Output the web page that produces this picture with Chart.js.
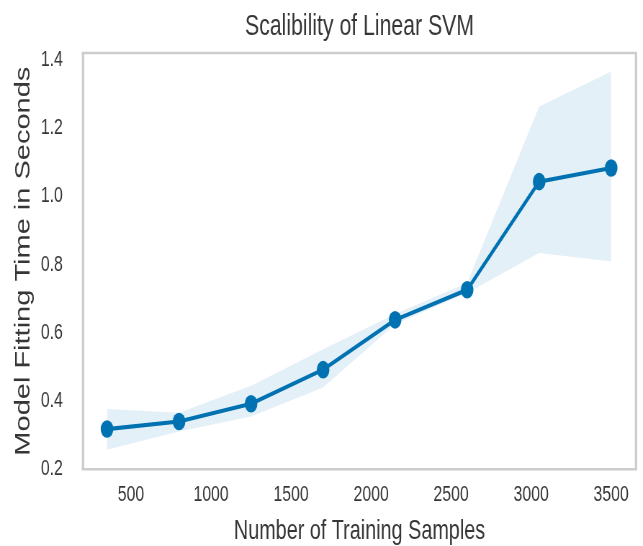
<!DOCTYPE html>
<html>
<head>
<meta charset="utf-8">
<script src="https://cdn.jsdelivr.net/npm/chart.js@4/dist/chart.umd.min.js"></script>
<style>
  html, body { margin: 0; padding: 0; background: #ffffff; overflow: hidden; }
  /* the figure is drawn wide and compressed horizontally, giving the narrow lettering and oval markers */
  #wrap { width: 893px; height: 546px; transform: scaleX(0.72); transform-origin: 0 0; }
</style>
</head>
<body>
<div id="wrap"><canvas id="chart" width="893" height="546"></canvas></div>
<script>
// Training set sizes and model fitting times (seconds)
const samples      = [350, 800, 1250, 1700, 2150, 2600, 3050, 3500];
const fitTime      = [0.318, 0.340, 0.392, 0.492, 0.638, 0.726, 1.043, 1.083];
const fitTimeUpper = [0.377, 0.366, 0.445, 0.552, 0.655, 0.746, 1.263, 1.366];
const fitTimeLower = [0.257, 0.311, 0.355, 0.440, 0.625, 0.717, 0.834, 0.809];

const xTicks = [500, 1000, 1500, 2000, 2500, 3000, 3500];
const yTicks = [0.2, 0.4, 0.6, 0.8, 1.0, 1.2, 1.4];

const LINE = '#0072B2';
const BAND = 'rgba(0, 114, 178, 0.11)';
const TEXT = '#363636';
const FONT = "'Liberation Sans', Arial, sans-serif";

const pts = (ys) => samples.map((x, i) => ({ x: x, y: ys[i] }));

// light grey box around the plotting area
const frame = {
  id: 'frame',
  beforeDatasetsDraw(chart) {
    const { ctx, chartArea: a } = chart;
    ctx.save();
    ctx.strokeStyle = '#cdcdcd';
    ctx.lineWidth = 2.6;
    ctx.beginPath();
    ctx.moveTo(a.left - 1.7, a.top); ctx.lineTo(a.right + 1.7, a.top);
    ctx.moveTo(a.left - 1.7, a.bottom); ctx.lineTo(a.right + 1.7, a.bottom);
    ctx.stroke();
    ctx.lineWidth = 3.4;
    ctx.beginPath();
    ctx.moveTo(a.left, a.top); ctx.lineTo(a.left, a.bottom);
    ctx.moveTo(a.right, a.top); ctx.lineTo(a.right, a.bottom);
    ctx.stroke();
    ctx.restore();
  }
};

new Chart(document.getElementById('chart'), {
  type: 'line',
  data: {
    datasets: [
      { data: pts(fitTimeUpper), borderWidth: 0, pointRadius: 0, backgroundColor: BAND, fill: '+1', order: 2 },
      { data: pts(fitTimeLower), borderWidth: 0, pointRadius: 0, backgroundColor: BAND, fill: false, order: 2 },
      { data: pts(fitTime), borderColor: LINE, backgroundColor: LINE, borderWidth: 4.2,
        pointRadius: 8.8, pointBorderWidth: 0, pointBackgroundColor: LINE, fill: false, tension: 0, order: 1 }
    ]
  },
  options: {
    responsive: false,
    animation: false,
    devicePixelRatio: 1,
    layout: { padding: { left: 0, right: 9.7, top: 0, bottom: 0 } },
    plugins: {
      legend: { display: false },
      tooltip: { enabled: false },
      title: {
        display: true,
        text: 'Scalibility of Linear SVM',
        color: TEXT,
        fullSize: false,
        font: { family: FONT, size: 29.5, weight: 'normal', lineHeight: 1.2 },
        padding: { top: 9, bottom: 8.6 }
      }
    },
    scales: {
      x: {
        type: 'linear',
        min: 200,
        max: 3655,
        grid: { display: false, drawTicks: false },
        border: { display: false },
        afterBuildTicks: (s) => { s.ticks = xTicks.map(v => ({ value: v })); },
        ticks: { color: TEXT, padding: 12.5, font: { family: FONT, size: 22 }, callback: (v) => String(v) },
        title: {
          display: true, text: 'Number of Training Samples', color: TEXT,
          font: { family: FONT, size: 27.5, lineHeight: 0.8 }, padding: { top: -0.7, bottom: 4 }
        }
      },
      y: {
        min: 0.2,
        max: 1.42,
        grid: { display: false, drawTicks: false },
        border: { display: false },
        afterBuildTicks: (s) => { s.ticks = yTicks.map(v => ({ value: v })); },
        ticks: { color: TEXT, padding: 28, font: { family: FONT, size: 22 }, callback: (v) => Number(v).toFixed(1) },
        title: {
          display: true, text: 'Model Fitting Time in Seconds', color: TEXT,
          font: { family: FONT, size: 29, lineHeight: 1 }, padding: { top: 18.1, bottom: -18.4 }
        }
      }
    }
  },
  plugins: [frame]
});
</script>
</body>
</html>
